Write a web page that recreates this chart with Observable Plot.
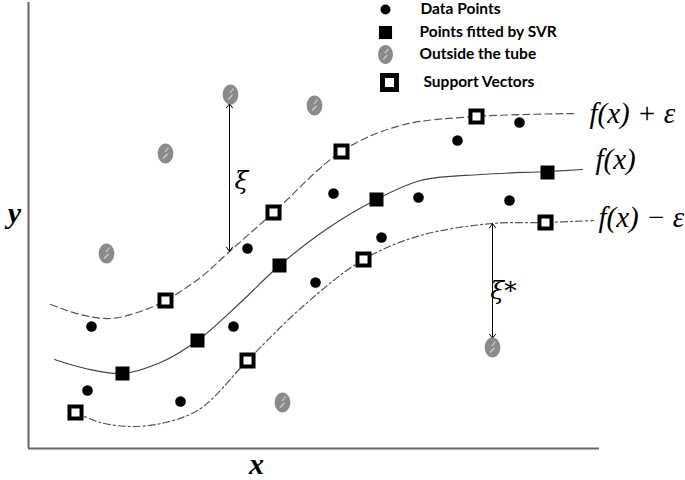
<!DOCTYPE html>
<html><head><meta charset="utf-8">
<script src="https://cdn.jsdelivr.net/npm/d3@7"></script>
<script src="https://cdn.jsdelivr.net/npm/@observablehq/plot@0.6"></script>
<style>body{margin:0;background:#fff}</style>
</head><body><div id="chart"></div>
<script>
// Schematic units (x to the right, y upward)
const dataPointsX = [91, 87, 180, 233, 247, 315, 333, 381, 418, 457, 519, 509];
const dataPointsY = [154, 90, 79, 154, 232, 198, 287, 243, 283, 340, 358, 280];

const fittedX = [122, 197, 279, 376, 547];
const fittedY = [107, 140, 215, 281, 308];

const supportX = [75, 165, 247, 273, 341, 363, 476, 545];
const supportY = [68, 180, 120, 268, 329, 221, 364, 258];

const outsideX = [230, 314, 165, 106, 282, 492];
const outsideY = [386, 375, 327, 227, 78, 133];

const upperX = [50, 80, 110, 140, 165, 200, 229, 273, 341, 400, 476, 577];
const upperY = [176, 166, 162, 169, 180, 203, 229, 268, 329, 355, 364, 367];

const fX = [54, 85, 122, 160, 197, 240, 279, 327, 376, 420, 480, 547, 582];
const fY = [121, 112, 107, 118, 140, 178, 215, 252, 281, 300, 306, 309, 311];

const lowerX = [75, 100, 130, 165, 200, 247, 300, 363, 420, 492, 545, 593];
const lowerY = [68, 58, 54, 58, 72, 120, 172, 221, 245, 257, 258, 260];

// slack arrows: x, from (tube edge), to (outside point)
const slackX = [229, 492];
const slackFrom = [229, 257];
const slackTo = [377, 142];
const slackLabels = ["ξ", "ξ*"];
const slackLabelX = [241, 503];
const slackLabelY = [300, 190];

const curveLabels = ["f(x) + ε", "f(x)", "f(x) − ε"];
const curveLabelX = [589, 595, 598];
const curveLabelY = [367, 321, 263];

const legendLabels = ["Data Points", "Points fitted by SVR", "Outside the tube", "Support Vectors"];
const legendSymbolX = [385, 385, 385, 389];
const legendSymbolY = [471, 448, 426, 398];
const legendTextX = [420, 419, 419, 423];

const axisX0 = 28, axisX1 = 599, axisY0 = 32, axisY1 = 478;

const pts = (xs, ys) => xs.map((x, i) => ({x, y: ys[i]}));

const ellipse = {draw(ctx, size) {
  const r = Math.sqrt(size / Math.PI), rx = r * 0.78, ry = r, k = 0.5523;
  ctx.moveTo(rx, 0);
  ctx.bezierCurveTo(rx, ry * k, rx * k, ry, 0, ry);
  ctx.bezierCurveTo(-rx * k, ry, -rx, ry * k, -rx, 0);
  ctx.bezierCurveTo(-rx, -ry * k, -rx * k, -ry, 0, -ry);
  ctx.bezierCurveTo(rx * k, -ry, rx, -ry * k, rx, 0);
  ctx.closePath();
}};
const streak = {draw(ctx, size) {
  const r = Math.sqrt(size / Math.PI);
  ctx.moveTo(r * 0.3, -r * 0.6); ctx.lineTo(-r * 0.05, -r * 0.15);
  ctx.moveTo(r * 0.2, r * 0.05); ctx.lineTo(-r * 0.25, r * 0.5);
}};

const outside = pts(outsideX, outsideY);
const legend = legendLabels.map((t, i) => ({t, sx: legendSymbolX[i], sy: legendSymbolY[i], tx: legendTextX[i]}));
const slack = slackX.map((x, i) => ({x, a: slackFrom[i], b: slackTo[i], m: (slackFrom[i] + slackTo[i]) / 2}));

const chart = Plot.plot({
  width: 685, height: 480, margin: 0,
  x: {domain: [0, 685], axis: null},
  y: {domain: [0, 480], axis: null},
  marks: [
    Plot.ruleX([axisX0], {y1: axisY0, y2: axisY1, stroke: "#666", strokeWidth: 2}),
    Plot.ruleY([axisY0], {x1: axisX0, x2: axisX1, stroke: "#666", strokeWidth: 2}),
    Plot.line(pts(upperX, upperY), {x: "x", y: "y", curve: "catmull-rom", stroke: "#555", strokeWidth: 1.2, strokeDasharray: "7,4"}),
    Plot.line(pts(fX, fY), {x: "x", y: "y", curve: "catmull-rom", stroke: "#444", strokeWidth: 1.2}),
    Plot.line(pts(lowerX, lowerY), {x: "x", y: "y", curve: "catmull-rom", stroke: "#555", strokeWidth: 1.2, strokeDasharray: "7,3,2,3"}),
    Plot.arrow(slack, {x1: "x", y1: "m", x2: "x", y2: "a", stroke: "black", strokeWidth: 1, headLength: 8, headAngle: 70, insetEnd: 0}),
    Plot.arrow(slack, {x1: "x", y1: "m", x2: "x", y2: "b", stroke: "black", strokeWidth: 1, headLength: 8, headAngle: 70, insetEnd: 0}),
    Plot.dot(outside, {x: "x", y: "y", r: 10, symbol: ellipse, fill: "#8a8a8a"}),
    Plot.dot(outside, {x: "x", y: "y", r: 10, symbol: streak, fill: "none", stroke: "#d0d0d0", strokeWidth: 1.2}),
    Plot.dot(pts(dataPointsX, dataPointsY), {x: "x", y: "y", r: 5.3, fill: "black"}),
    Plot.dot(pts(fittedX, fittedY), {x: "x", y: "y", r: 7.9, symbol: "square", fill: "black"}),
    Plot.dot(pts(supportX, supportY), {x: "x", y: "y", r: 6.8, symbol: "square", fill: "white", stroke: "black", strokeWidth: 4}),
    Plot.text(curveLabels.map((t, i) => ({t, x: curveLabelX[i], y: curveLabelY[i]})), {x: "x", y: "y", text: "t", textAnchor: "start", fontSize: 29, fontStyle: "italic", fontFamily: "Liberation Serif", fill: "black"}),
    Plot.text(slackLabels.map((t, i) => ({t, x: slackLabelX[i], y: slackLabelY[i]})), {x: "x", y: "y", text: "t", fontSize: 25, fontStyle: "italic", fontFamily: "DejaVu Serif", fill: "black"}),
    Plot.text([{t: "y", x: 14, y: 267}], {x: "x", y: "y", text: "t", fontSize: 30, fontStyle: "italic", fontWeight: "bold", fontFamily: "Liberation Serif", fill: "black"}),
    Plot.text([{t: "x", x: 256, y: 16}], {x: "x", y: "y", text: "t", fontSize: 30, fontStyle: "italic", fontWeight: "bold", fontFamily: "Liberation Serif", fill: "black"}),
    // legend
    Plot.dot(legend.slice(0, 1), {x: "sx", y: "sy", r: 5, fill: "black"}),
    Plot.dot(legend.slice(1, 2), {x: "sx", y: "sy", r: 7.4, symbol: "square", fill: "black"}),
    Plot.dot(legend.slice(2, 3), {x: "sx", y: "sy", r: 9.5, symbol: ellipse, fill: "#8a8a8a"}),
    Plot.dot(legend.slice(2, 3), {x: "sx", y: "sy", r: 9.5, symbol: streak, fill: "none", stroke: "#d0d0d0", strokeWidth: 1.2}),
    Plot.dot(legend.slice(3, 4), {x: "sx", y: "sy", r: 7.9, symbol: "square", fill: "white", stroke: "black", strokeWidth: 5}),
    Plot.text(legend, {x: "tx", y: "sy", text: "t", textAnchor: "start", fontSize: 15.5, fontWeight: "bold", fontFamily: "Lato", fill: "black"})
  ]
});
document.getElementById("chart").append(chart);
</script>
</body></html>
